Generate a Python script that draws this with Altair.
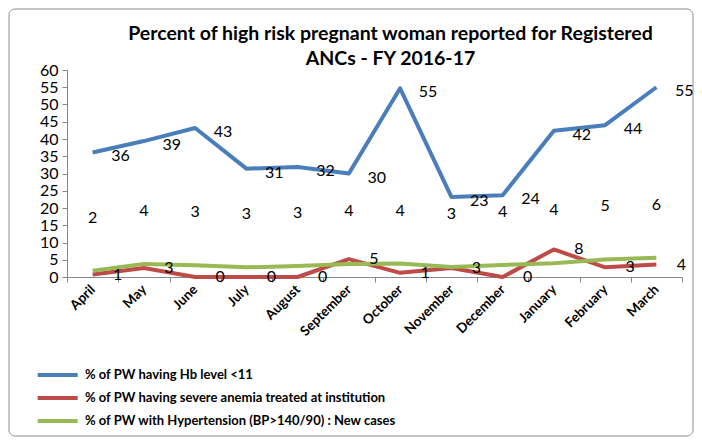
import altair as alt
import pandas as pd

months = ["April", "May", "June", "July", "August", "September", "October",
          "November", "December", "January", "February", "March"]
series_names = [
    "% of PW having Hb level <11",
    "% of PW having severe anemia treated at institution",
    "% of PW with Hypertension (BP>140/90) : New cases",
]
hb = [36.1, 39.4, 43.2, 31.4, 31.9, 30.0, 54.7, 23.2, 23.7, 42.4, 44.0, 55.0]
anemia = [0.7, 2.6, 0.0, 0.0, 0.0, 5.2, 1.2, 2.6, 0.0, 8.0, 2.8, 3.6]
hyper = [1.8, 3.8, 3.4, 2.8, 3.2, 3.8, 3.9, 2.9, 3.5, 4.0, 5.1, 5.6]
colors = ["#4A7EBB", "#BE4B48", "#98B954"]
y_ticks = list(range(0, 61, 5))

rows = []
for name, vals in zip(series_names, [hb, anemia, hyper]):
    for m, v in zip(months, vals):
        rows.append({"month": m, "series": name, "value": v})
df = pd.DataFrame(rows)

FONT = "Lato"

base = alt.Chart(df)

x_enc = alt.X("month:N", sort=months,
              scale=alt.Scale(paddingInner=0, paddingOuter=0),
              axis=alt.Axis(title=None, labelAngle=-45, labelFontWeight="bold",
                            labelFontSize=13.5, labelAlign="right", labelBaseline="middle",
                            labelPadding=5, tickBand="extent", tickSize=5,
                            domainColor="#888888", tickColor="#888888",
                            labelColor="#000000", labelFont=FONT, labelOverlap=False))
y_enc = alt.Y("value:Q", scale=alt.Scale(domain=[0, 60], nice=False),
              axis=alt.Axis(title=None, values=y_ticks, grid=False, tickSize=5,
                            labelFontSize=16, labelPadding=4, domainColor="#888888",
                            tickColor="#888888", labelColor="#000000", labelFont=FONT,
                            labelOverlap=False))

lines = base.mark_line(strokeWidth=4, strokeJoin="round").encode(
    x=x_enc, y=y_enc,
    color=alt.Color("series:N", sort=series_names,
                    scale=alt.Scale(domain=series_names, range=colors),
                    legend=alt.Legend(title=None, orient="none", legendX=-5, legendY=296,
                                      direction="vertical", symbolType="M-5,0H1",
                                      symbolSize=178, symbolStrokeWidth=4,
                                      labelFontSize=13, labelFontWeight="bold",
                                      labelFont=FONT, labelColor="#000000",
                                      labelOffset=5, rowPadding=6, padding=0,
                                      labelLimit=500)),
)

def labels(name, dx, dy):
    return base.transform_filter(alt.datum.series == name).mark_text(
        dx=dx, dy=dy, fontSize=16, font=FONT, color="#000000",
        align="center", baseline="middle"
    ).encode(x=x_enc, y=y_enc,
             text=alt.Text("value:Q", format=".0f"))

border = alt.Chart(pd.DataFrame({"a": [0]})).mark_rect(
    fill="transparent", stroke="#8c8c8c", strokeWidth=1, cornerRadius=6
).encode(x=alt.value(-58), x2=alt.value(626), y=alt.value(-61), y2=alt.value(366))

chart = alt.layer(
    border,
    lines,
    labels(series_names[0], 28, 4),
    labels(series_names[1], 25, 0),
    labels(series_names[2], 0, -53),
).properties(
    width=615, height=207,
    title=alt.Title(["Percent of high risk pregnant woman reported for Registered",
                     "ANCs - FY 2016-17"],
                    fontSize=19.5, font=FONT, fontWeight="bold", color="#000000",
                    anchor="middle", dx=16, dy=3, offset=-58, lineHeight=25),
    autosize=alt.AutoSizeParams(type="none"),
    padding={"left": 59, "top": 62, "right": 12, "bottom": 160},
).configure_view(stroke=None)

chart.save("out.html", embed_options={"renderer": "svg", "actions": False})
